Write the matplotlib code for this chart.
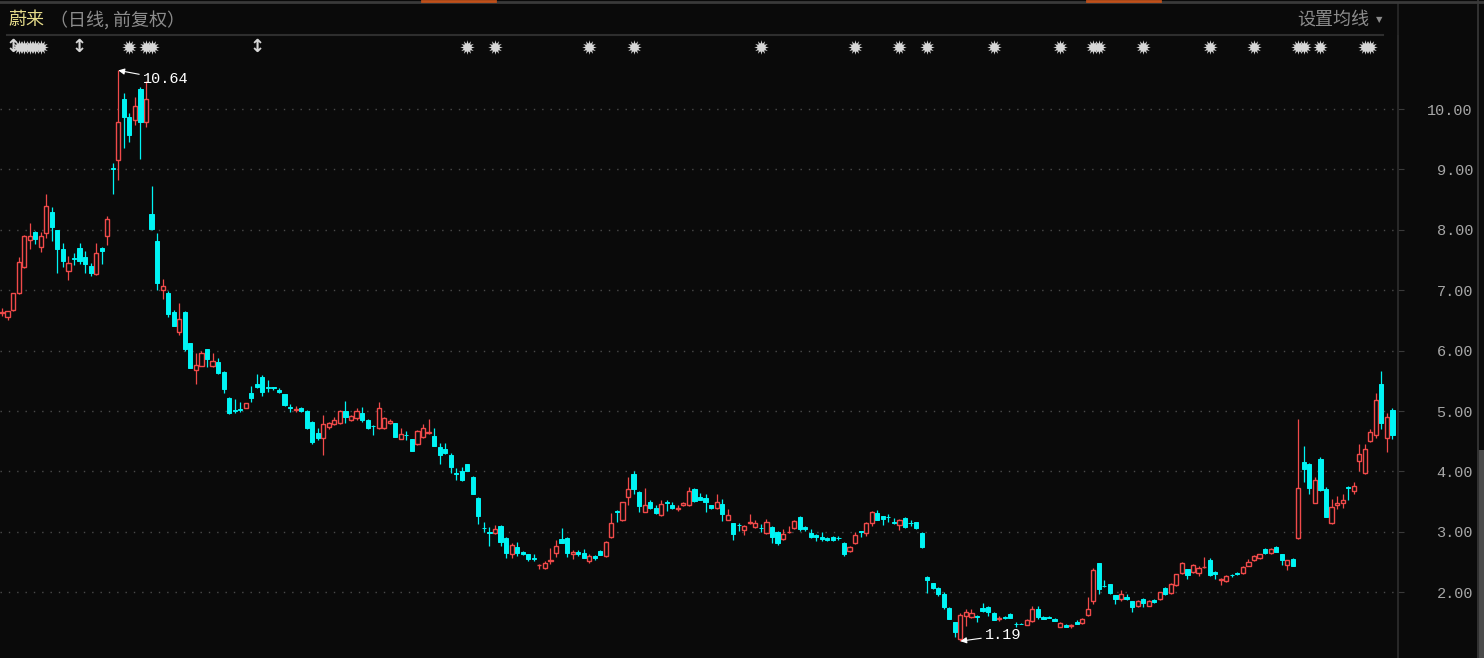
import numpy as np
import matplotlib.pyplot as plt
from matplotlib.lines import Line2D
from matplotlib.patches import Rectangle

plt.rcParams['font.family'] = ['Noto Sans CJK SC', 'DejaVu Sans']

# daily OHLC (前复权)
opens = [6.62, 6.55, 6.67, 6.95, 7.38, 7.83, 7.96, 7.71, 7.95, 8.30,
         8.00, 7.68, 7.32, 7.53, 7.70, 7.55, 7.40, 7.27, 7.70, 7.90,
         9.03, 9.15, 10.17, 9.87, 9.82, 10.33, 9.78, 8.27, 7.81, 7.00,
         6.95, 6.64, 6.31, 6.64, 6.13, 5.68, 5.75, 6.03, 5.75, 5.81,
         5.65, 5.22, 5.01, 5.03, 5.05, 5.30, 5.45, 5.57, 5.39, 5.39,
         5.35, 5.28, 5.06, 5.02, 5.05, 5.00, 4.82, 4.64, 4.55, 4.73,
         4.78, 4.80, 5.00, 4.85, 4.88, 4.97, 4.85, 4.76, 4.72, 4.72,
         4.80, 4.80, 4.54, 4.61, 4.53, 4.45, 4.57, 4.64, 4.59, 4.40,
         4.37, 4.27, 3.97, 4.01, 4.12, 3.91, 3.56, 3.07, 2.99, 2.98,
         3.10, 2.90, 2.63, 2.75, 2.67, 2.63, 2.56, 2.45, 2.40, 2.52,
         2.65, 2.88, 2.90, 2.63, 2.66, 2.65, 2.52, 2.60, 2.68, 2.60,
         2.91, 3.34, 3.20, 3.57, 3.96, 3.66, 3.33, 3.50, 3.39, 3.28,
         3.50, 3.44, 3.38, 3.44, 3.44, 3.71, 3.58, 3.56, 3.44, 3.39,
         3.46, 3.20, 3.14, 3.12, 3.03, 3.15, 3.08, 3.07, 2.98, 3.08,
         3.00, 2.88, 2.99, 3.06, 3.24, 3.08, 2.98, 2.95, 2.92, 2.90,
         2.92, 2.90, 2.82, 2.68, 2.81, 3.01, 2.98, 3.14, 3.31, 3.26,
         3.25, 3.16, 3.11, 3.23, 3.15, 3.16, 2.98, 2.25, 2.15, 2.07,
         1.97, 1.74, 1.50, 1.23, 1.60, 1.59, 1.60, 1.74, 1.76, 1.66,
         1.56, 1.59, 1.64, 1.48, 1.48, 1.46, 1.52, 1.72, 1.59, 1.59,
         1.56, 1.43, 1.46, 1.44, 1.50, 1.49, 1.62, 1.86, 2.48, 2.11,
         2.13, 1.95, 1.88, 1.92, 1.85, 1.78, 1.88, 1.78, 1.87, 1.88,
         2.07, 1.98, 2.12, 2.32, 2.38, 2.33, 2.32, 2.41, 2.53, 2.33,
         2.21, 2.18, 2.29, 2.32, 2.32, 2.44, 2.53, 2.56, 2.72, 2.65,
         2.75, 2.63, 2.45, 2.55, 2.90, 4.16, 4.13, 3.48, 4.21, 3.71,
         3.14, 3.45, 3.48, 3.74, 3.68, 4.18, 3.97, 4.50, 4.60, 5.45,
         4.56, 5.02]

highs = [6.70, 6.66, 6.96, 7.55, 7.92, 8.11, 7.98, 7.96, 8.59, 8.37,
         8.00, 7.78, 7.57, 7.62, 7.78, 7.65, 7.45, 7.78, 7.72, 8.23,
         9.10, 10.64, 10.26, 9.94, 10.20, 10.37, 10.46, 8.72, 7.95, 7.18,
         6.98, 6.67, 6.79, 6.66, 6.13, 5.96, 6.00, 6.03, 5.96, 5.88,
         5.66, 5.23, 5.20, 5.15, 5.14, 5.41, 5.61, 5.59, 5.51, 5.40,
         5.38, 5.28, 5.12, 5.08, 5.06, 5.01, 4.83, 4.72, 4.93, 4.82,
         4.90, 5.01, 5.16, 4.93, 5.05, 5.07, 4.86, 4.77, 5.15, 4.90,
         4.87, 4.81, 4.72, 4.67, 4.54, 4.68, 4.78, 4.87, 4.72, 4.47,
         4.47, 4.31, 4.06, 4.08, 4.13, 3.92, 3.57, 3.16, 3.08, 3.12,
         3.12, 2.91, 2.82, 2.83, 2.68, 2.64, 2.63, 2.46, 2.52, 2.73,
         2.86, 3.06, 2.91, 2.70, 2.70, 2.72, 2.64, 2.62, 2.70, 2.84,
         3.31, 3.36, 3.50, 3.90, 4.00, 3.68, 3.72, 3.52, 3.44, 3.52,
         3.52, 3.50, 3.45, 3.50, 3.75, 3.73, 3.64, 3.62, 3.45, 3.62,
         3.54, 3.37, 3.15, 3.14, 3.12, 3.30, 3.20, 3.13, 3.21, 3.09,
         3.01, 3.04, 3.10, 3.19, 3.27, 3.09, 3.04, 2.96, 3.00, 2.91,
         2.93, 2.93, 2.83, 2.76, 3.00, 3.02, 3.16, 3.35, 3.36, 3.27,
         3.29, 3.23, 3.21, 3.24, 3.20, 3.17, 2.99, 2.27, 2.16, 2.08,
         2.01, 1.75, 1.51, 1.66, 1.72, 1.72, 1.62, 1.82, 1.77, 1.67,
         1.60, 1.60, 1.65, 1.51, 1.49, 1.55, 1.77, 1.77, 1.60, 1.60,
         1.57, 1.50, 1.47, 1.48, 1.54, 1.57, 1.92, 2.40, 2.49, 2.20,
         2.14, 1.96, 2.03, 1.97, 1.86, 1.87, 1.90, 1.87, 1.89, 2.01,
         2.09, 2.16, 2.31, 2.50, 2.39, 2.47, 2.44, 2.58, 2.56, 2.35,
         2.24, 2.28, 2.31, 2.33, 2.43, 2.55, 2.61, 2.64, 2.73, 2.73,
         2.77, 2.64, 2.54, 2.56, 4.87, 4.42, 4.14, 3.90, 4.24, 3.75,
         3.55, 3.60, 3.62, 3.76, 3.83, 4.45, 4.45, 4.70, 5.30, 5.66,
         4.97, 5.05]

lows = [6.58, 6.50, 6.65, 6.93, 7.36, 7.68, 7.76, 7.64, 7.86, 7.81,
        7.28, 7.39, 7.17, 7.42, 7.43, 7.28, 7.23, 7.26, 7.43, 7.75,
        8.60, 8.82, 9.35, 9.45, 9.74, 9.17, 9.70, 8.00, 7.00, 6.85,
        6.56, 6.40, 6.26, 6.00, 5.71, 5.45, 5.74, 5.73, 5.73, 5.62,
        5.30, 4.95, 4.97, 4.98, 5.05, 5.15, 5.38, 5.25, 5.32, 5.35,
        5.30, 5.08, 4.98, 4.98, 4.99, 4.70, 4.45, 4.52, 4.28, 4.71,
        4.77, 4.79, 4.80, 4.84, 4.85, 4.82, 4.71, 4.60, 4.70, 4.70,
        4.78, 4.57, 4.53, 4.52, 4.33, 4.44, 4.55, 4.62, 4.42, 4.12,
        4.29, 3.98, 3.86, 3.84, 4.00, 3.62, 3.13, 3.00, 2.77, 2.97,
        2.77, 2.56, 2.56, 2.60, 2.62, 2.51, 2.51, 2.38, 2.38, 2.46,
        2.58, 2.81, 2.58, 2.55, 2.60, 2.56, 2.48, 2.54, 2.61, 2.59,
        2.89, 3.16, 3.18, 3.44, 3.62, 3.33, 3.33, 3.37, 3.30, 3.27,
        3.35, 3.38, 3.34, 3.42, 3.43, 3.50, 3.52, 3.33, 3.38, 3.38,
        3.18, 3.19, 2.86, 3.02, 2.94, 3.13, 3.07, 2.99, 2.97, 2.81,
        2.79, 2.87, 2.98, 3.05, 3.02, 3.02, 2.90, 2.85, 2.85, 2.85,
        2.85, 2.87, 2.60, 2.67, 2.80, 2.92, 2.93, 3.10, 3.19, 3.12,
        3.17, 3.13, 3.03, 3.07, 3.10, 3.05, 2.74, 1.99, 2.06, 1.94,
        1.72, 1.55, 1.26, 1.19, 1.44, 1.58, 1.50, 1.68, 1.60, 1.54,
        1.53, 1.56, 1.57, 1.43, 1.47, 1.45, 1.51, 1.55, 1.56, 1.57,
        1.52, 1.42, 1.43, 1.41, 1.47, 1.48, 1.60, 1.80, 1.97, 2.08,
        1.97, 1.80, 1.85, 1.87, 1.68, 1.76, 1.76, 1.77, 1.82, 1.87,
        1.96, 1.97, 2.11, 2.30, 2.22, 2.32, 2.27, 2.40, 2.27, 2.22,
        2.12, 2.17, 2.26, 2.29, 2.31, 2.43, 2.52, 2.55, 2.64, 2.64,
        2.66, 2.45, 2.37, 2.43, 2.88, 3.83, 3.62, 3.47, 3.68, 3.24,
        3.13, 3.37, 3.40, 3.53, 3.63, 4.00, 3.95, 4.48, 4.55, 4.70,
        4.32, 4.53]

closes = [6.64, 6.65, 6.95, 7.47, 7.90, 7.90, 7.85, 7.90, 8.40, 8.05,
          7.68, 7.49, 7.45, 7.52, 7.48, 7.43, 7.28, 7.62, 7.65, 8.18,
          9.00, 9.78, 9.87, 9.57, 10.05, 9.78, 10.17, 8.01, 7.12, 7.07,
          6.60, 6.41, 6.52, 6.03, 5.71, 5.76, 5.96, 5.86, 5.83, 5.63,
          5.37, 4.97, 5.00, 5.02, 5.13, 5.22, 5.40, 5.32, 5.38, 5.38,
          5.32, 5.10, 5.05, 5.03, 5.00, 4.72, 4.49, 4.55, 4.78, 4.80,
          4.85, 5.00, 4.90, 4.92, 5.00, 4.85, 4.72, 4.75, 5.05, 4.88,
          4.83, 4.57, 4.62, 4.60, 4.34, 4.67, 4.72, 4.66, 4.42, 4.27,
          4.30, 4.07, 3.96, 3.86, 4.01, 3.63, 3.26, 3.06, 2.98, 3.05,
          2.83, 2.65, 2.78, 2.65, 2.63, 2.55, 2.55, 2.45, 2.48, 2.53,
          2.77, 2.82, 2.65, 2.66, 2.64, 2.57, 2.60, 2.56, 2.62, 2.83,
          3.14, 3.33, 3.49, 3.71, 3.71, 3.43, 3.44, 3.39, 3.31, 3.46,
          3.48, 3.39, 3.39, 3.48, 3.67, 3.51, 3.53, 3.49, 3.39, 3.49,
          3.29, 3.28, 2.96, 3.11, 3.10, 3.16, 3.14, 3.06, 3.16, 2.92,
          2.81, 2.96, 3.00, 3.18, 3.04, 3.04, 2.92, 2.92, 2.88, 2.86,
          2.86, 2.89, 2.63, 2.75, 2.94, 3.00, 3.15, 3.33, 3.20, 3.21,
          3.24, 3.15, 3.20, 3.08, 3.14, 3.06, 2.75, 2.21, 2.07, 1.97,
          1.75, 1.55, 1.34, 1.63, 1.68, 1.66, 1.59, 1.69, 1.67, 1.54,
          1.57, 1.58, 1.57, 1.47, 1.47, 1.54, 1.72, 1.59, 1.56, 1.58,
          1.52, 1.49, 1.43, 1.45, 1.47, 1.56, 1.72, 2.37, 2.05, 2.10,
          1.98, 1.88, 1.97, 1.88, 1.75, 1.86, 1.82, 1.86, 1.83, 2.00,
          1.97, 2.13, 2.30, 2.48, 2.28, 2.45, 2.40, 2.42, 2.28, 2.30,
          2.22, 2.27, 2.28, 2.30, 2.42, 2.50, 2.60, 2.63, 2.65, 2.72,
          2.67, 2.53, 2.53, 2.43, 3.73, 4.04, 3.72, 3.85, 3.70, 3.25,
          3.41, 3.47, 3.53, 3.73, 3.76, 4.29, 4.37, 4.65, 5.18, 4.80,
          4.90, 4.60]

# event markers along the top row (candle index)
star_days = [3, 4, 5, 6, 7, 23, 26, 27, 84, 89, 106, 114, 137, 154, 162, 167,
             179, 191, 197, 198, 206, 218, 226, 234, 235, 238, 246, 247]
arrow_days = [2, 14, 46]

price_ticks = [2, 3, 4, 5, 6, 7, 8, 9, 10]

W, H = 1484, 658
bg = '#0a0a0a'
up_color = '#f04a4a'
down_color = '#00f4f4'
grey = '#8c8c8c'

fig = plt.figure(figsize=(W / 100, H / 100), dpi=100, facecolor=bg)
ax = fig.add_axes([0, 0, 1398 / W, 622 / H], facecolor=bg)

o = np.array(opens)
h = np.array(highs)
l = np.array(lows)
c = np.array(closes)
x = np.arange(len(c))
up = c >= o

ax.vlines(x[up], l[up], h[up], color=up_color, lw=0.9, zorder=2)
ax.vlines(x[~up], l[~up], h[~up], color=down_color, lw=0.9, zorder=2)
ax.bar(x[up], c[up] - o[up], bottom=o[up], width=0.75, facecolor=bg,
       edgecolor=up_color, lw=1.0, zorder=3)
ax.bar(x[~up], o[~up] - c[~up], bottom=c[~up], width=0.75, facecolor=down_color,
       edgecolor=down_color, lw=0.7, zorder=3)

ax.set_xlim(-0.36, 252.0)
ax.set_ylim(0.911, 11.209)

ax.set_xticks([])
ax.set_yticks(price_ticks)
ax.set_yticklabels(['%.2f' % p for p in price_ticks])
ax.yaxis.tick_right()
ax.tick_params(axis='y', length=4, width=0.8, color='#3a3a3a', pad=50,
               labelcolor='#a6a6a6', labelsize=11)
for lab in ax.get_yticklabels():
    lab.set_horizontalalignment('right')
    lab.set_family('Liberation Mono')
ax.grid(axis='y', color='#4a4a4a', lw=1, linestyle=(0, (1, 5)))
for side in ['top', 'bottom', 'left']:
    ax.spines[side].set_visible(False)
ax.spines['right'].set_color('#2a2a2a')
ax.spines['right'].set_linewidth(1.2)

# max / min labels
i_hi = int(np.argmax(h))
i_lo = int(np.argmin(l))
ax.annotate('%.2f' % h[i_hi], xy=(i_hi, h[i_hi]), xytext=(25, -9),
            textcoords='offset pixels', ha='left', va='center', color='white',
            fontsize=11, family='Liberation Mono',
            arrowprops=dict(arrowstyle='-|>', color='white', lw=0.8,
                            mutation_scale=9, shrinkA=1, shrinkB=0))
ax.annotate('%.2f' % l[i_lo], xy=(i_lo, l[i_lo]), xytext=(25, 6),
            textcoords='offset pixels', ha='left', va='center', color='white',
            fontsize=11, family='Liberation Mono',
            arrowprops=dict(arrowstyle='-|>', color='white', lw=0.8,
                            mutation_scale=9, shrinkA=1, shrinkB=0))

# info markers row
row = ax.get_xaxis_transform()
ax.scatter(star_days, [0.982] * len(star_days), transform=row, marker=(12, 1, 0),
           s=110, color='#d6d6d6', lw=0, clip_on=False, zorder=5)
ax.scatter(star_days, [0.982] * len(star_days), transform=row, marker='o',
           s=35, color='#d6d6d6', lw=0, clip_on=False, zorder=5)
for d in arrow_days:
    ax.text(d, 0.982, '↕', transform=row, ha='center', va='center',
            color='#d6d6d6', fontsize=13, fontweight='bold', family='DejaVu Sans',
            clip_on=False)

# header
ty = 1 - 20 / H
fig.text(8 / W, ty, '蔚来', color='#e6dc8a', fontsize=13, va='center')
fig.text(50 / W, ty, '（日线, 前复权）', color=grey, fontsize=13, va='center')
fig.text(1297 / W, ty, '设置均线', color=grey, fontsize=13, va='center')
fig.text(1379 / W, ty, '▼', color=grey, fontsize=6, va='center', ha='center',
         family='DejaVu Sans')
fig.add_artist(Line2D([7 / W, 1383 / W], [1 - 35 / H] * 2, color='#2e2e2e', lw=1.5))
fig.add_artist(Line2D([1398 / W] * 2, [0, 1 - 3 / H], color='#2a2a2a', lw=1.2))

# window frame bits
fig.add_artist(Line2D([0, 1], [1 - 1.5 / H] * 2, color='#3a3a3a', lw=2))
fig.add_artist(Line2D([422 / W, 495 / W], [1 - 1 / H] * 2, color='#c0501a', lw=2))
fig.add_artist(Line2D([1087 / W, 1160 / W], [1 - 1 / H] * 2, color='#c0501a', lw=2))
fig.add_artist(Line2D([1478 / W] * 2, [0, 1], color='#3a3a3a', lw=1.2))
fig.patches.append(Rectangle((1479 / W, 0), 5 / W, 1 - 450 / H, transform=fig.transFigure,
                             facecolor='#4a4a4a', edgecolor='none'))

plt.savefig('out.png', dpi=100, facecolor=bg)
plt.close()
